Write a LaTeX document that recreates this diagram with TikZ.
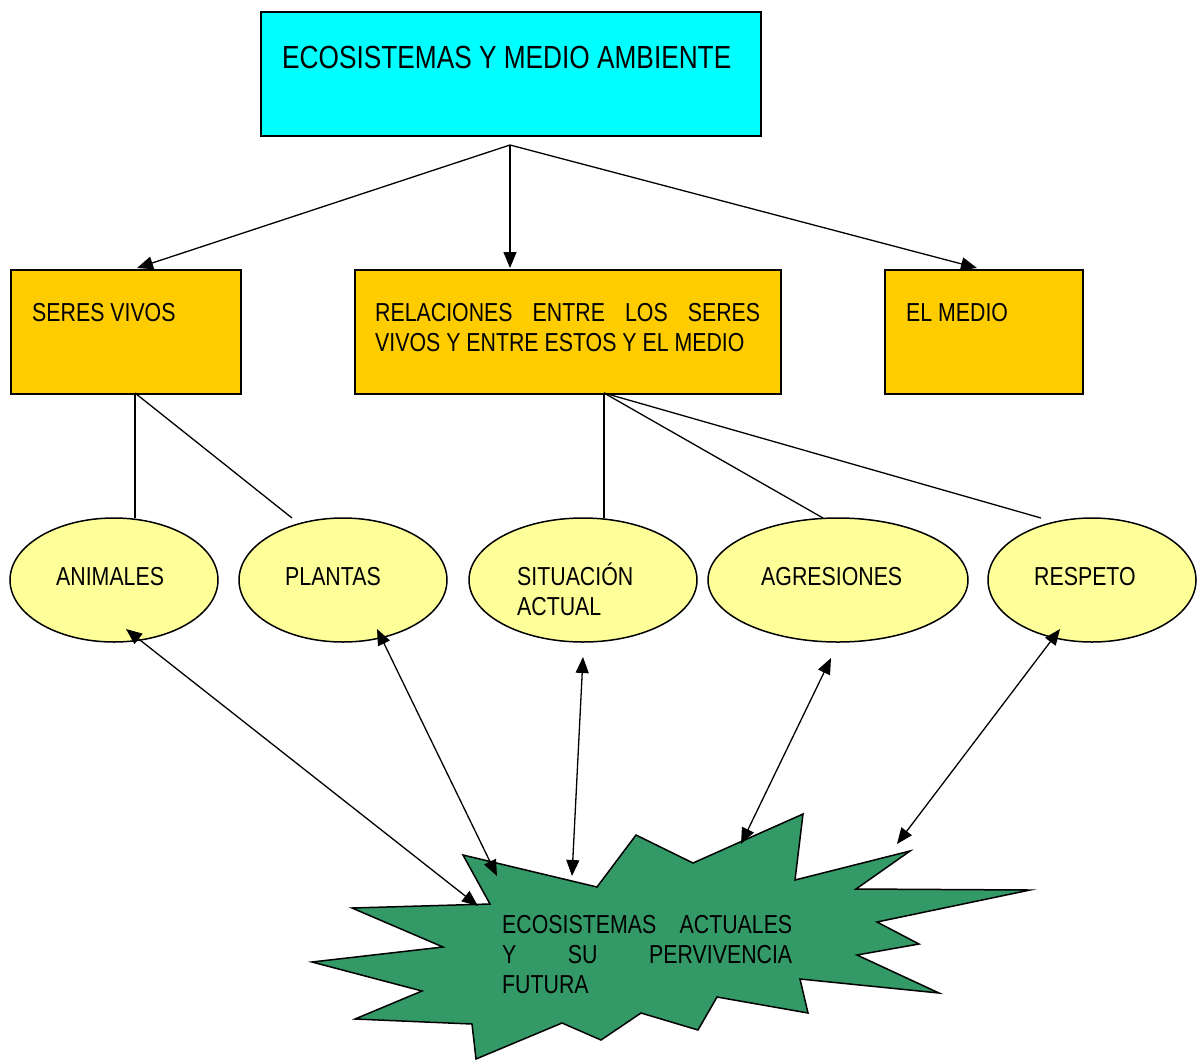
\documentclass[tikz,border=0pt]{standalone}
\usepackage{fontspec}
\setmainfont[FakeStretch=0.82]{Liberation Sans}
\usetikzlibrary{arrows.meta,shapes.geometric}
\definecolor{cyanbox}{HTML}{00FFFF}
\definecolor{orangebox}{HTML}{FFCC00}
\definecolor{yellowell}{HTML}{FFFF99}
\definecolor{stargreen}{HTML}{339966}
\tikzset{
  boxstyle/.style={draw=black,line width=1.5pt},
  ellstyle/.style={draw=black,line width=1.5pt,fill=yellowell},
  txt/.style={anchor=base west,inner sep=0pt,font=\fontsize{26}{30}\selectfont},
  ptr/.style={line width=1.3pt,-{Triangle[length=16pt,width=13pt]}},
  dptr/.style={line width=1.3pt,{Triangle[length=16pt,width=13pt]}-{Triangle[length=16pt,width=13pt]}},
  plain/.style={line width=1.3pt}
}
\begin{document}
\begin{tikzpicture}[x=1pt,y=-1pt]
\useasboundingbox (0,0) rectangle (1197,1061);
% top box
\node[boxstyle,fill=cyanbox,minimum width=500pt,minimum height=124pt,inner sep=0pt,anchor=north west] (top) at (260,11) {};
\node[txt,font=\fontsize{32}{36}\selectfont] (toptxt) at (282,68) {ECOSISTEMAS Y MEDIO AMBIENTE};
% second row boxes
\node[boxstyle,fill=orangebox,minimum width=230pt,minimum height=124pt,inner sep=0pt,anchor=north west] (seres) at (10,269) {};
\node[txt] (serestxt) at (32,321) {SERES VIVOS};
\node[boxstyle,fill=orangebox,minimum width=426pt,minimum height=124pt,inner sep=0pt,anchor=north west] (rel) at (354,269) {};
\node[txt,text width=385pt,align=left] (reltxt) at (375,321) {\spaceskip=0pt\xspaceskip=0pt\relax RELACIONES\hfill ENTRE\hfill LOS\hfill SERES\\\mbox{VIVOS Y ENTRE ESTOS Y EL MEDIO}};
\node[boxstyle,fill=orangebox,minimum width=198pt,minimum height=124pt,inner sep=0pt,anchor=north west] (medio) at (884,269) {};
\node[txt] (mediotxt) at (906,321) {EL MEDIO};
% ellipses
\node[ellstyle,ellipse,minimum width=208pt,minimum height=124pt,inner sep=0pt] (anim) at (114,580) {};
\node[txt] (animtxt) at (56,585) {ANIMALES};
\node[ellstyle,ellipse,minimum width=208pt,minimum height=124pt,inner sep=0pt] (plan) at (343,580) {};
\node[txt] (plantxt) at (285,585) {PLANTAS};
\node[ellstyle,ellipse,minimum width=228pt,minimum height=124pt,inner sep=0pt] (sit) at (583,580) {};
\node[txt,text width=150pt,align=left] (sittxt) at (517,585) {SITUACIÓN\\ACTUAL};
\node[ellstyle,ellipse,minimum width=260pt,minimum height=124pt,inner sep=0pt] (agr) at (838,580) {};
\node[txt] (agrtxt) at (761,585) {AGRESIONES};
\node[ellstyle,ellipse,minimum width=208pt,minimum height=124pt,inner sep=0pt] (resp) at (1092,580) {};
\node[txt] (resptxt) at (1034,585) {RESPETO};
% star
\draw[line width=1.5pt,fill=stargreen,line join=miter] (463,855) -- (597,887) -- (636,835) -- (693,863) -- (803,814) -- (795,880) -- (910,851) -- (856,889) -- (1030,890) -- (877,922) -- (919,944) -- (857,955) -- (939,993) -- (800,979) -- (808,1013) -- (717,997) -- (698,1030) -- (641,1013) -- (601,1040) -- (562,1023) -- (476,1059) -- (472,1024) -- (355,1019) -- (422,991) -- (312,962) -- (443,947) -- (352,908) -- (490,904) -- cycle;
\node[txt,text width=290pt,align=left] (startxt) at (502,933) {ECOSISTEMAS\hfill ACTUALES\\Y\hfill SU\hfill PERVIVENCIA\\FUTURA};
% top connectors
\coordinate (hub) at (510,145);
\coordinate (aSer) at (137,268);
\coordinate (aRel) at (510,268);
\coordinate (aMed) at (977,268);
\draw[ptr] (hub) -- (aSer);
\draw[ptr] (hub) -- (aRel);
\draw[ptr] (hub) -- (aMed);
% lines from seres vivos
\coordinate (sB) at (135,393);
\coordinate (sE1) at (135,518);
\coordinate (sE2) at (292,518);
\draw[plain] (sB) -- (sE1);
\draw[plain] (sB) -- (sE2);
% lines from relaciones
\coordinate (rB) at (604,393);
\coordinate (rE1) at (604,518);
\coordinate (rE2) at (823,518);
\coordinate (rE3) at (1041,518);
\draw[plain] (rB) -- (rE1);
\draw[plain] (rB) -- (rE2);
\draw[plain] (rB) -- (rE3);
% double arrows
\coordinate (d1a) at (126,629);
\coordinate (d1b) at (478,906);
\coordinate (d2a) at (377,629);
\coordinate (d2b) at (497,876);
\coordinate (d3a) at (583,657);
\coordinate (d3b) at (572,876);
\coordinate (d4a) at (831,658);
\coordinate (d4b) at (741,844);
\coordinate (d5a) at (1060,629);
\coordinate (d5b) at (897,844);
\draw[dptr] (d1a) -- (d1b);
\draw[dptr] (d2a) -- (d2b);
\draw[dptr] (d3a) -- (d3b);
\draw[dptr] (d4a) -- (d4b);
\draw[dptr] (d5a) -- (d5b);
\end{tikzpicture}
\end{document}
